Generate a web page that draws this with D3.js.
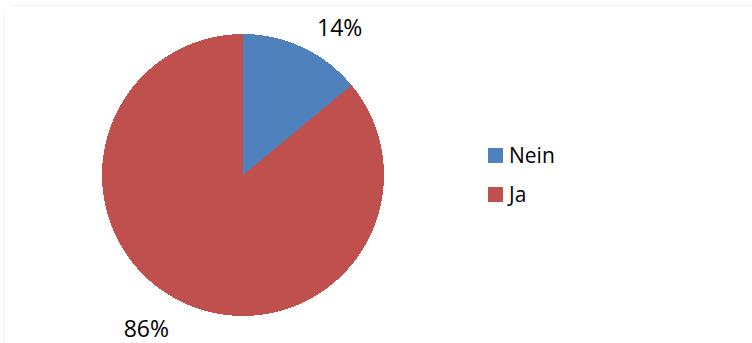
<!DOCTYPE html>
<html>
<head>
<meta charset="utf-8">
<script src="https://cdn.jsdelivr.net/npm/d3@7"></script>
<style>
  html, body { margin: 0; padding: 0; background: #fff; }
  svg { display: block; }
</style>
</head>
<body>
<svg id="chart" width="752" height="343"></svg>
<script>
// Antworten und Anteile
const categories = ["Nein", "Ja"];
const shares = [14, 86];
const colors = ["#4F81BD", "#C0504D"];

const width = 752, height = 343;
const svg = d3.select("#chart");

// dezenter Rahmen des Diagrammbereichs
svg.append("path")
  .attr("d", `M3.5,${height} V14 M10,5.5 H${width}`)
  .attr("fill", "none")
  .attr("stroke", "#f0f0f0")
  .attr("stroke-width", 1);

const cx = 243, cy = 175, radius = 141;

const pie = d3.pie().value(d => d).sort(null);
const arcs = pie(shares);

const arc = d3.arc().innerRadius(0).outerRadius(radius);

const g = svg.append("g").attr("transform", `translate(${cx},${cy})`);

g.selectAll("path.slice")
  .data(arcs)
  .join("path")
  .attr("class", "slice")
  .attr("d", arc)
  .attr("fill", (d, i) => colors[i])
  .attr("shape-rendering", "crispEdges");

// Prozentbeschriftungen außerhalb des Kreises
const labelFont = 23;
const labelRadius = 179;
const labelTurn = 7.5 * Math.PI / 180;
const fmt = d => d + "%";

g.selectAll("text.pct")
  .data(arcs)
  .join("text")
  .attr("class", "pct")
  .attr("x", d => {
    const a = (d.startAngle + d.endAngle) / 2 + labelTurn;
    return labelRadius * Math.sin(a);
  })
  .attr("y", d => {
    const a = (d.startAngle + d.endAngle) / 2 + labelTurn;
    return -labelRadius * Math.cos(a) + 3 + labelFont * 0.36;
  })
  .attr("text-anchor", "middle")
  .attr("font-family", "'Open Sans', sans-serif")
  .attr("font-size", labelFont)
  .attr("fill", "#000")
  .text(d => fmt(d.data));

// Legende
const legend = svg.append("g").attr("transform", "translate(488,148)");
const rowStep = 39;
const item = legend.selectAll("g.item")
  .data(categories)
  .join("g")
  .attr("class", "item")
  .attr("transform", (d, i) => `translate(0,${i * rowStep})`);

item.append("rect")
  .attr("width", 15)
  .attr("height", 15)
  .attr("fill", (d, i) => colors[i]);

item.append("text")
  .attr("x", 21)
  .attr("y", 15)
  .attr("font-family", "'Open Sans', sans-serif")
  .attr("font-size", 21)
  .attr("fill", "#000")
  .text(d => d);
</script>
</body>
</html>
